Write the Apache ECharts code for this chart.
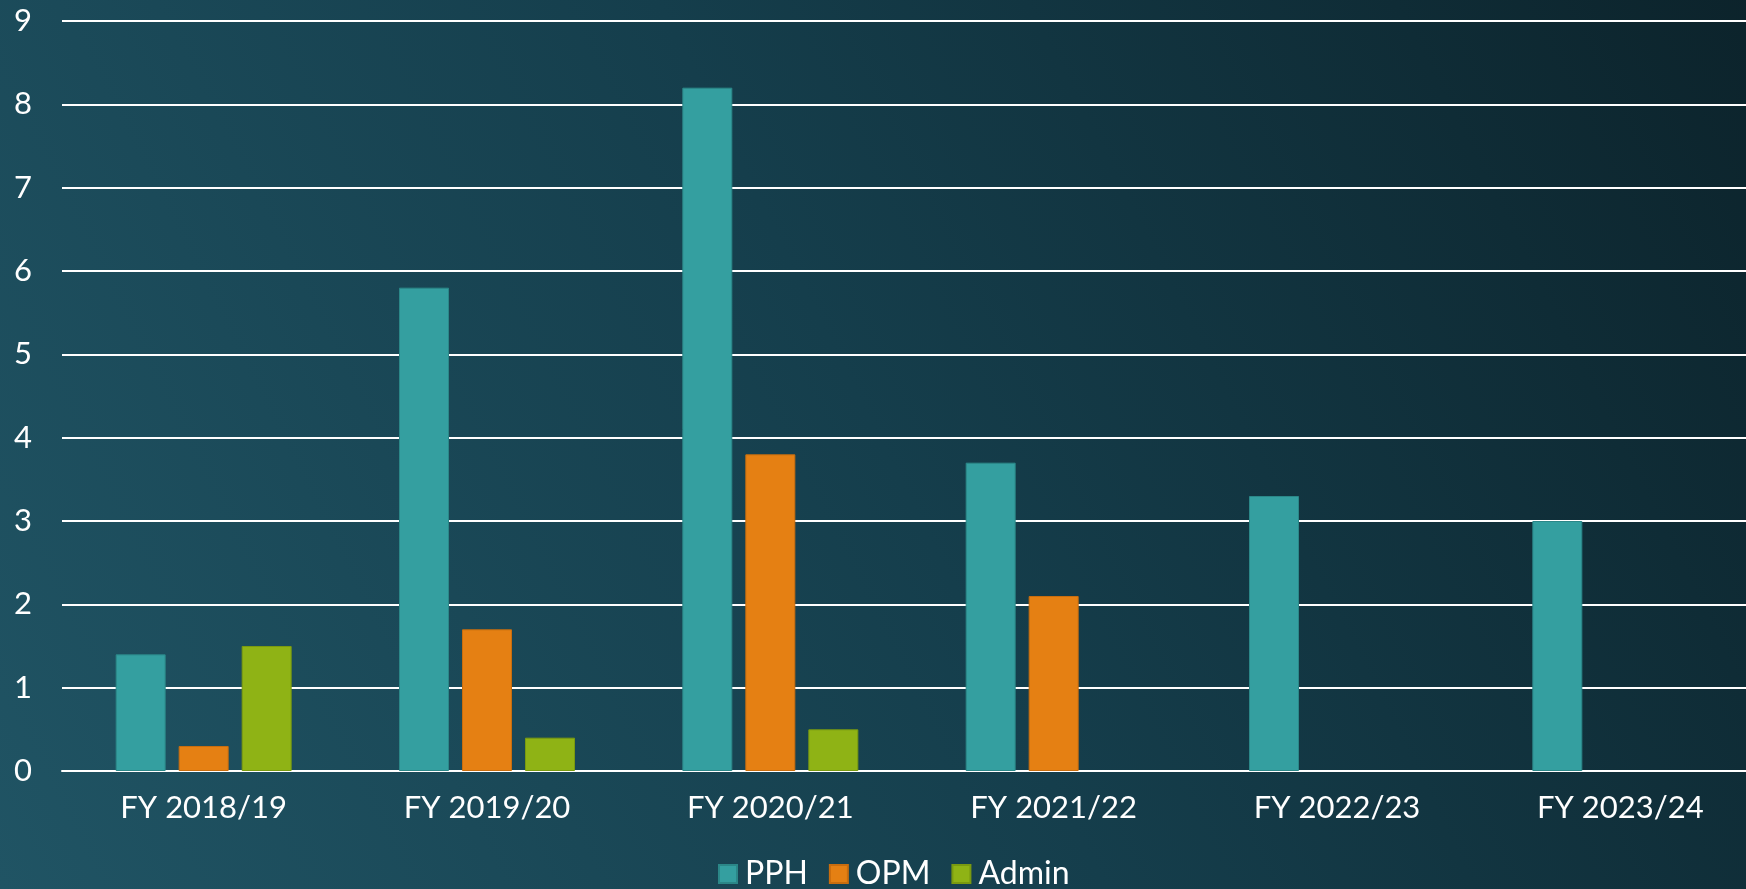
<!DOCTYPE html>
<html>
<head>
<meta charset="utf-8">
<script src="https://cdn.jsdelivr.net/npm/echarts@6/dist/echarts.min.js"></script>
<style>
  html, body { margin: 0; padding: 0; overflow: hidden; width: 1746px; height: 889px; }
  /* the plot area runs a bit past the right edge of the slide */
  #chart { width: 1762px; height: 889px; }
</style>
</head>
<body>
<div id="chart"></div>
<script>
var categories = ['FY 2018/19', 'FY 2019/20', 'FY 2020/21', 'FY 2021/22', 'FY 2022/23', 'FY 2023/24'];
var pphValues = [1.4, 5.8, 8.2, 3.7, 3.3, 3.0];
var opmValues = [0.3, 1.7, 3.8, 2.1, null, null];
var adminValues = [1.5, 0.4, 0.5, null, null, null];
var yTicks = [0, 1, 2, 3, 4, 5, 6, 7, 8, 9];

var dom = document.getElementById('chart');
var myChart = echarts.init(dom, null, { renderer: 'canvas' });

var fontName = 'Lato';

function barSeries(name, data, color, border) {
    return {
        name: name,
        type: 'bar',
        barWidth: 50,
        barGap: '26%',
        itemStyle: { color: color, borderColor: border, borderWidth: 1 },
        data: data
    };
}

var option = {
    backgroundColor: {
        type: 'linear', x: 0, y: 1, x2: 1, y2: 0,
        colorStops: [
            { offset: 0, color: '#205464' },
            { offset: 0.5, color: '#153e4c' },
            { offset: 1, color: '#0c232b' }
        ]
    },
    textStyle: { fontFamily: fontName },
    legend: {
        data: ['PPH', 'OPM', 'Admin'],
        left: 713,
        top: 853,
        itemWidth: 18,
        itemHeight: 18,
        itemGap: 21,
        icon: 'rect',
        textStyle: { color: '#ffffff', fontSize: 32, fontFamily: fontName, padding: [0, 0, 0, 3] }
    },
    grid: { left: 62, right: 0, top: 21, bottom: 118, containLabel: false },
    xAxis: {
        type: 'category',
        data: categories,
        axisTick: { show: false },
        axisLine: { lineStyle: { color: '#ffffff', width: 2 } },
        axisLabel: { color: '#ffffff', fontSize: 31, margin: 21, fontFamily: fontName }
    },
    yAxis: {
        type: 'value',
        min: yTicks[0],
        max: yTicks[yTicks.length - 1],
        interval: 1,
        axisLine: { show: false },
        axisTick: { show: false },
        splitLine: { lineStyle: { color: '#ffffff', width: 2 } },
        axisLabel: { color: '#ffffff', fontSize: 31, margin: 30, fontFamily: fontName }
    },
    series: [
        barSeries('PPH', pphValues, '#349fa0', '#2b8788'),
        barSeries('OPM', opmValues, '#e58013', '#c96d0e'),
        barSeries('Admin', adminValues, '#8fb315', '#7a9a10')
    ]
};

myChart.setOption(option);
</script>
</body>
</html>
